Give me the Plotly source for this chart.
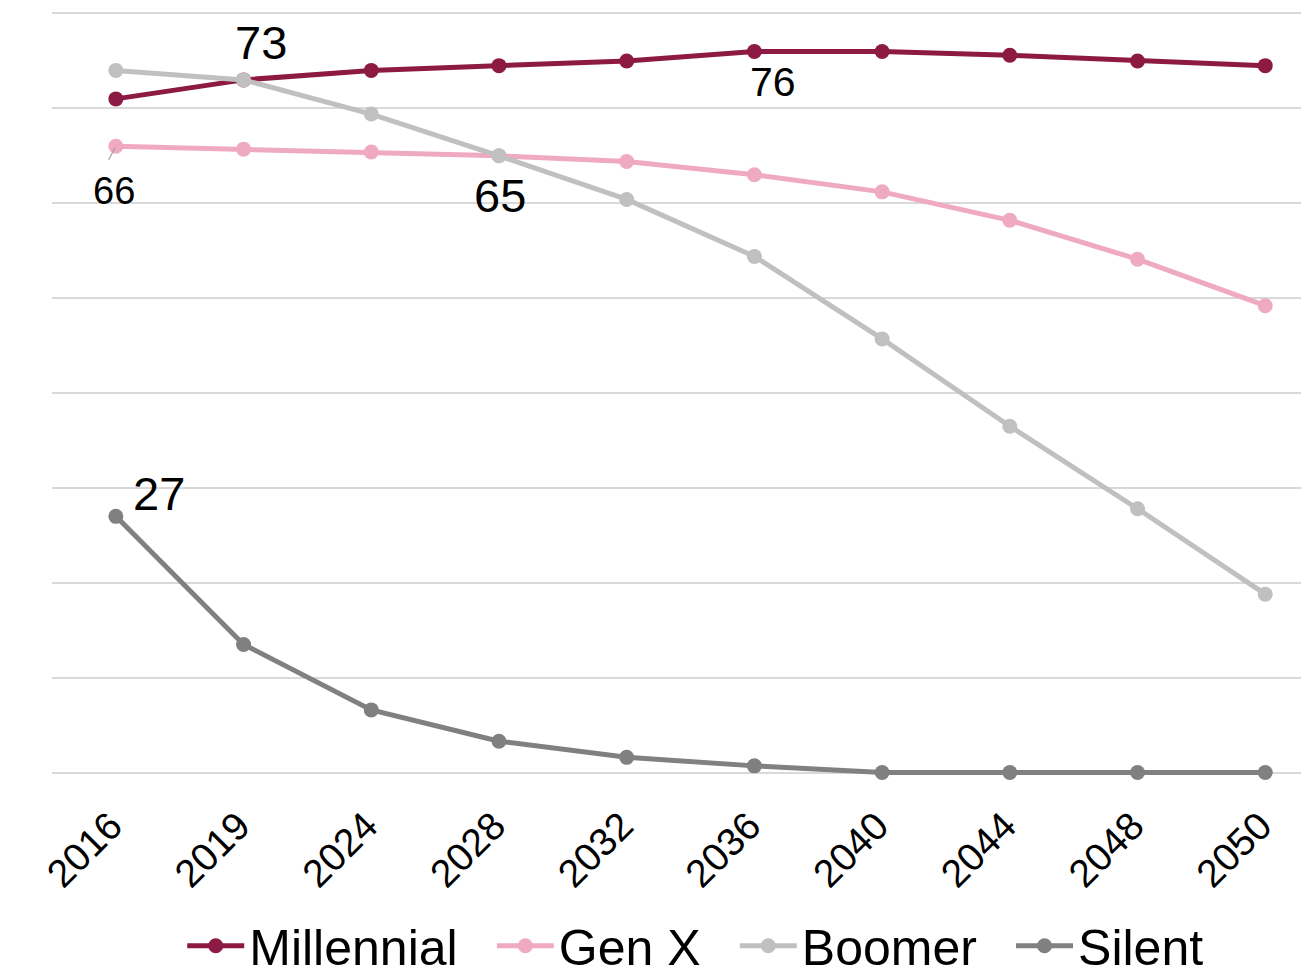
import plotly.graph_objects as go

years = ["2016", "2019", "2024", "2028", "2032", "2036", "2040", "2044", "2048", "2050"]
millennial = [71, 73, 74, 74.5, 75, 76, 76, 75.6, 75, 74.5]
gen_x = [66, 65.7, 65.4, 65, 64.4, 63, 61.2, 58.2, 54.1, 49.2]
boomer = [74, 73, 69.4, 65, 60.4, 54.4, 45.7, 36.5, 27.8, 18.8]
silent = [27, 13.5, 6.6, 3.3, 1.6, 0.7, 0, 0, 0, 0]

series_names = ["Millennial", "Gen X", "Boomer", "Silent"]
series_values = [millennial, gen_x, boomer, silent]
series_colors = ["#8C1A42", "#F0A9C2", "#C0C0C0", "#808080"]

FONT = "Liberation Sans"
GAP = "\u2002\u200a"  # extra spacing between legend entries

fig = go.Figure()
for i, (name, vals, col) in enumerate(zip(series_names, series_values, series_colors)):
    label = name + (GAP if i < len(series_names) - 1 else "")
    fig.add_trace(go.Scatter(
        x=years, y=vals, name=label, mode="lines+markers",
        line=dict(color=col, width=5),
        marker=dict(color=col, size=15),
        cliponaxis=False,
    ))

# data labels: (series index, point index, text, xshift, yshift, font size)
labels = [
    (0, 1, "73", 17, 37, 47),
    (0, 5, "76", 19, -31, 41),
    (1, 3, "65", 1, -40, 47),
    (3, 0, "27", 43, 23, 47),
    (1, 0, "66", -2, -45, 38),
]
annots = []
for si, pi, txt, xs, ys, fs in labels:
    annots.append(dict(xref="x", yref="y", x=pi, y=series_values[si][pi], text=txt,
                       showarrow=False, xshift=xs, yshift=ys,
                       font=dict(family=FONT, size=fs, color="black")))
# leader line for the "66" label
annots.append(dict(xref="x", yref="y", x=0, y=gen_x[0], text="",
                   showarrow=True, ax=-8, ay=15, arrowhead=0, arrowwidth=1.2,
                   arrowcolor="#A0A0A0", standoff=2))

fig.update_layout(
    width=1301, height=977,
    margin=dict(l=52, r=0, t=3.5, b=194.5, autoexpand=False),
    paper_bgcolor="white", plot_bgcolor="white",
    font=dict(family=FONT, color="black"),
    showlegend=True,
    annotations=annots,
    legend=dict(orientation="h", x=0.515, xanchor="center",
                yref="container", y=0.032, yanchor="middle",
                font=dict(family=FONT, size=50, color="black"),
                itemwidth=57, tracegroupgap=0,
                bgcolor="rgba(0,0,0,0)"),
)
fig.update_xaxes(type="category", range=[-0.5, 9.28], showgrid=False,
                 showline=False, zeroline=False, ticks="",
                 ticklabelstandoff=12, ticklabelshift=-5,
                 tickangle=-45, tickfont=dict(family=FONT, size=39, color="black"))
fig.update_yaxes(range=[-1, 81], dtick=10, tick0=0, showgrid=True,
                 gridcolor="#D9D9D9", gridwidth=1.5, zeroline=False,
                 showticklabels=False, showline=False, ticks="")

fig.write_html("out.html", config={"displayModeBar": False},
               post_script="document.body.style.margin='0px';document.body.style.overflow='hidden';")
